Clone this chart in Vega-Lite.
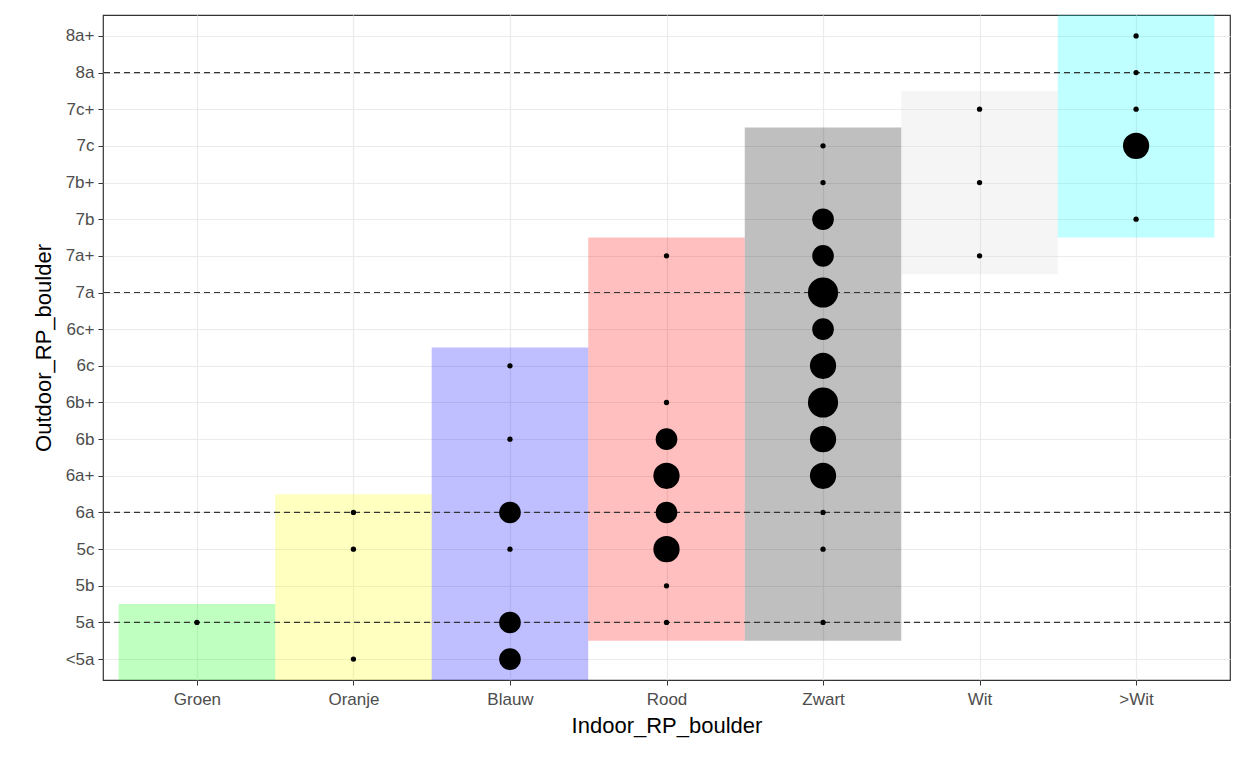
{
  "$schema": "https://vega.github.io/schema/vega-lite/v6.json",
  "width": 1127,
  "height": 665,
  "autosize": "none",
  "padding": {"left": 103, "top": 15, "right": 18, "bottom": 88},
  "background": "white",
  "config": {
    "font": "Liberation Sans",
    "view": {"stroke": "#333333", "strokeWidth": 1.2},
    "axis": {
      "gridColor": "#ebebeb", "gridWidth": 1.2, "domain": false,
      "tickColor": "#333333", "tickSize": 5, "labelColor": "#4d4d4d",
      "labelFontSize": 17, "titleFontSize": 22, "titleFontWeight": "normal", "titleColor": "black"
    }
  },
  "datasets": {
    "bars": [
      {"grade": "Groen", "x0": 0.5, "x1": 1.5, "y0": 0.43, "y1": 2.5},
      {"grade": "Oranje", "x0": 1.5, "x1": 2.5, "y0": 0.43, "y1": 5.5},
      {"grade": "Blauw", "x0": 2.5, "x1": 3.5, "y0": 0.43, "y1": 9.5},
      {"grade": "Rood", "x0": 3.5, "x1": 4.5, "y0": 1.5, "y1": 12.5},
      {"grade": "Zwart", "x0": 4.5, "x1": 5.5, "y0": 1.5, "y1": 15.5},
      {"grade": "Wit", "x0": 5.5, "x1": 6.5, "y0": 11.5, "y1": 16.5},
      {"grade": ">Wit", "x0": 6.5, "x1": 7.5, "y0": 12.5, "y1": 18.57}
    ],
    "pts": [
      {"x": 1, "y": 2, "n": 1},
      {"x": 2, "y": 5, "n": 1}, {"x": 2, "y": 4, "n": 1}, {"x": 2, "y": 1, "n": 1},
      {"x": 3, "y": 9, "n": 1}, {"x": 3, "y": 7, "n": 1}, {"x": 3, "y": 5, "n": 3},
      {"x": 3, "y": 4, "n": 1}, {"x": 3, "y": 2, "n": 3}, {"x": 3, "y": 1, "n": 3},
      {"x": 4, "y": 12, "n": 1}, {"x": 4, "y": 8, "n": 1}, {"x": 4, "y": 7, "n": 3},
      {"x": 4, "y": 6, "n": 4}, {"x": 4, "y": 5, "n": 3}, {"x": 4, "y": 4, "n": 4},
      {"x": 4, "y": 3, "n": 1}, {"x": 4, "y": 2, "n": 1},
      {"x": 5, "y": 15, "n": 1}, {"x": 5, "y": 14, "n": 1}, {"x": 5, "y": 13, "n": 3},
      {"x": 5, "y": 12, "n": 3}, {"x": 5, "y": 11, "n": 5}, {"x": 5, "y": 10, "n": 3},
      {"x": 5, "y": 9, "n": 4}, {"x": 5, "y": 8, "n": 5}, {"x": 5, "y": 7, "n": 4},
      {"x": 5, "y": 6, "n": 4}, {"x": 5, "y": 5, "n": 1}, {"x": 5, "y": 4, "n": 1},
      {"x": 5, "y": 2, "n": 1},
      {"x": 6, "y": 16, "n": 1}, {"x": 6, "y": 14, "n": 1}, {"x": 6, "y": 12, "n": 1},
      {"x": 7, "y": 18, "n": 1}, {"x": 7, "y": 17, "n": 1}, {"x": 7, "y": 16, "n": 1},
      {"x": 7, "y": 15, "n": 4}, {"x": 7, "y": 13, "n": 1}
    ],
    "lines": [{"y": 2}, {"y": 5}, {"y": 11}, {"y": 17}]
  },
  "encoding": {
    "x": {
      "type": "quantitative",
      "scale": {"domain": [0.4, 7.6], "nice": false, "zero": false},
      "axis": {
        "title": "Indoor_RP_boulder", "values": [1, 2, 3, 4, 5, 6, 7],
        "labelExpr": "['','Groen','Oranje','Blauw','Rood','Zwart','Wit','>Wit'][datum.value]",
        "labelPadding": 6, "titlePadding": 8
      }
    },
    "y": {
      "type": "quantitative",
      "scale": {"domain": [0.43, 18.57], "nice": false, "zero": false},
      "axis": {
        "title": "Outdoor_RP_boulder",
        "values": [1, 2, 3, 4, 5, 6, 7, 8, 9, 10, 11, 12, 13, 14, 15, 16, 17, 18],
        "labelExpr": "['','<5a','5a','5b','5c','6a','6a+','6b','6b+','6c','6c+','7a','7a+','7b','7b+','7c','7c+','8a','8a+'][datum.value]",
        "labelPadding": 4, "titlePadding": 10
      }
    }
  },
  "layer": [
    {
      "data": {"name": "bars"},
      "mark": {"type": "rect", "fillOpacity": 0.25},
      "encoding": {
        "x": {"field": "x0"}, "x2": {"field": "x1"},
        "y": {"field": "y0"}, "y2": {"field": "y1"},
        "fill": {
          "field": "grade", "type": "nominal", "legend": null,
          "scale": {
            "domain": ["Groen", "Oranje", "Blauw", "Rood", "Zwart", "Wit", ">Wit"],
            "range": ["#00ff00", "#ffff00", "#0000ff", "#ff0000", "#000000", "#d6d6d6", "#00ffff"]
          }
        }
      }
    },
    {
      "data": {"name": "lines"},
      "mark": {"type": "rule", "color": "#333333", "strokeDash": [6, 4], "strokeWidth": 1.2},
      "encoding": {"y": {"field": "y"}}
    },
    {
      "data": {"name": "pts"},
      "mark": {"type": "circle", "color": "black", "opacity": 1},
      "encoding": {
        "x": {"field": "x"},
        "y": {"field": "y"},
        "size": {
          "field": "n", "type": "quantitative", "legend": null,
          "scale": {"type": "linear", "domain": [1, 5], "range": [28, 908], "zero": false}
        }
      }
    }
  ]
}
